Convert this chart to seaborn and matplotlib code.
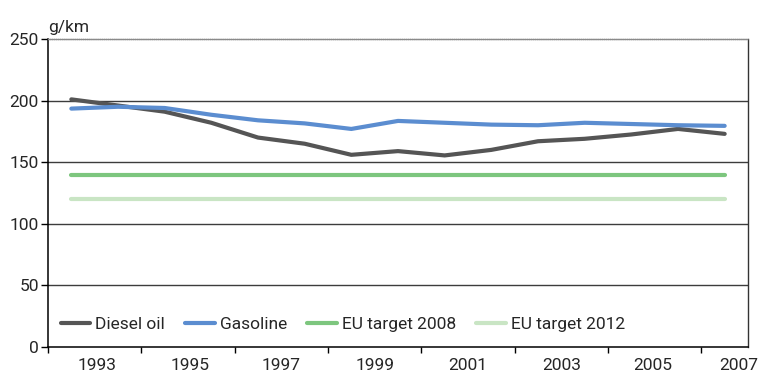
import pandas as pd
import matplotlib.pyplot as plt
import seaborn as sns

# values (g/km)
years = [1993, 1994, 1995, 1996, 1997, 1998, 1999, 2000,
         2001, 2002, 2003, 2004, 2005, 2006, 2007]
diesel_oil = [201, 196, 191, 182, 170, 165, 156, 159,
              155.5, 160, 167, 169, 172.5, 177, 173]
gasoline = [193.5, 195, 194, 188.5, 184, 181.5, 177, 183.5,
            182, 180.5, 180, 182, 181, 180, 179.5]
eu_target_2008 = [140, 140, 140, 140, 140, 140, 140, 140,
                  140, 140, 140, 140, 140, 140, 140]
eu_target_2012 = [120, 120, 120, 120, 120, 120, 120, 120,
                  120, 120, 120, 120, 120, 120, 120]

series_names = ["Diesel oil", "Gasoline", "EU target 2008", "EU target 2012"]
series_colors = ["#555555", "#5b8dd0", "#7dc67e", "#c9e5c4"]
year_labels = ["1993", "1995", "1997", "1999", "2001", "2003", "2005", "2007"]
y_ticks = [0, 50, 100, 150, 200, 250]

df = pd.concat([
    pd.DataFrame({"year": years, "value": vals, "series": name})
    for name, vals in zip(series_names,
                          [diesel_oil, gasoline, eu_target_2008, eu_target_2012])
])

sns.set_style("white")
plt.rcParams["font.family"] = ["Roboto", "DejaVu Sans"]
fs = 12.5

fig = plt.figure(figsize=(7.62, 3.76), dpi=100)
ax = fig.add_axes([48 / 762, 29 / 376, 700 / 762, 308 / 376])

sns.lineplot(data=df, x="year", y="value", hue="series", hue_order=series_names,
             palette=series_colors, linewidth=3, ax=ax, legend=True)

ax.set_xlim(1992.5, 2007.5)
ax.set_ylim(0, 250)
ax.set_yticks(y_ticks)
ax.set_xlabel("")
ax.set_ylabel("")

# tick marks between groups of two years, labels placed between marks
ax.set_xticks([1992.5 + 2 * k for k in range(8)])
ax.set_xticklabels([])
ax.set_xticks([1993.55, 1995.55, 1997.5, 1999.5, 2001.5, 2003.5, 2005.45, 2007.3],
              minor=True)
ax.set_xticklabels(year_labels, minor=True)
ax.tick_params(axis="x", which="major", direction="out", length=4, width=1,
               color="black", bottom=True)
ax.tick_params(axis="x", which="minor", length=0, pad=8, labelsize=fs)
ax.tick_params(axis="y", direction="out", length=5, width=1, color="black",
               pad=1.5, labelsize=fs, left=True)

for y in [50, 100, 150, 200]:
    ax.axhline(y, color="#3c3c3c", lw=1, zorder=0)

for side in ["left", "bottom"]:
    ax.spines[side].set_color("black")
    ax.spines[side].set_linewidth(1.1)
ax.spines["right"].set_color("#333333")
ax.spines["right"].set_linewidth(1)
ax.spines["top"].set_color("#8a8a8a")
ax.spines["top"].set_linewidth(1)
ax.spines["top"].set_linestyle((0, (1, 0.5)))

ax.annotate("g/km", xy=(0, 1), xycoords="axes fraction", xytext=(0, 3),
            textcoords="offset points", ha="left", va="bottom", fontsize=fs)

sns.move_legend(ax, "lower left", bbox_to_anchor=(0.008, 0.025), ncol=4,
                frameon=False, title=None, fontsize=fs, handlelength=1.72,
                handletextpad=0.29, columnspacing=1.15, borderaxespad=0)

fig.savefig("out.png", dpi=100)
